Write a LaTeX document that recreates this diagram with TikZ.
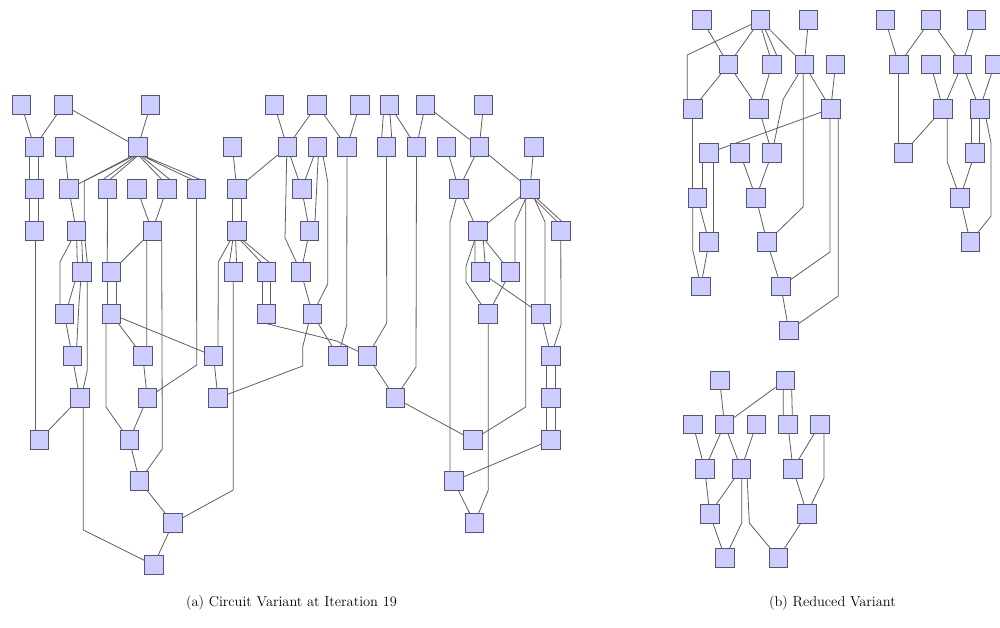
\documentclass[tikz,border=0pt]{standalone}
\pgfdeclarelayer{background}
\pgfsetlayers{background,main}
\definecolor{fillc}{RGB}{204,204,255}
\definecolor{bordc}{RGB}{85,85,115}
\definecolor{edgec}{RGB}{95,95,95}
\tikzset{
  nd/.style={draw=bordc, fill=fillc, minimum width=18.5pt, minimum height=18.5pt, inner sep=0pt, line width=0.7pt},
  ed/.style={draw=edgec, line width=0.8pt},
  captxt/.style={font=\fontsize{14.4}{17}\selectfont, inner sep=0pt}
}
\begin{document}
\begin{tikzpicture}[x=1pt,y=-1pt]
\useasboundingbox (0,0) rectangle (1000,628);
% ---------- (a) nodes ----------
\node[nd] (a1) at (21.5,105) {};
\node[nd] (a2) at (63.5,105) {};
\node[nd] (a3) at (150.5,105) {};
\node[nd] (a4) at (274.3,105) {};
\node[nd] (a5) at (317,105) {};
\node[nd] (a6) at (359.7,105) {};
\node[nd] (a7) at (389.5,105) {};
\node[nd] (a8) at (425.3,105) {};
\node[nd] (a9) at (483.5,105) {};
\node[nd] (b1) at (34.3,147) {};
\node[nd] (b2) at (64.5,147) {};
\node[nd] (b3) at (137.8,147) {};
\node[nd] (b4) at (232.5,147) {};
\node[nd] (b5) at (287.2,147) {};
\node[nd] (b6) at (317.2,147) {};
\node[nd] (b7) at (347,147) {};
\node[nd] (b8) at (386.5,147) {};
\node[nd] (b9) at (416.5,147) {};
\node[nd] (b10) at (446.5,147) {};
\node[nd] (b11) at (479.2,147) {};
\node[nd] (b12) at (533.8,147) {};
\node[nd] (c1) at (34.3,189) {};
\node[nd] (c2) at (68.8,189) {};
\node[nd] (c3) at (107.5,189) {};
\node[nd] (c4) at (137,189) {};
\node[nd] (c5) at (166.7,189) {};
\node[nd] (c6) at (196.5,189) {};
\node[nd] (c7) at (236.7,189) {};
\node[nd] (c8) at (301.7,189) {};
\node[nd] (c9) at (458.8,189) {};
\node[nd] (c10) at (530,189) {};
\node[nd] (d1) at (34.3,231) {};
\node[nd] (d2) at (76.3,231) {};
\node[nd] (d3) at (152.2,231) {};
\node[nd] (d4) at (236.7,231) {};
\node[nd] (d5) at (309.5,231) {};
\node[nd] (d6) at (477.8,231) {};
\node[nd] (d7) at (560.8,231) {};
\node[nd] (e1) at (81.7,272) {};
\node[nd] (e2) at (111.3,272) {};
\node[nd] (e3) at (233.5,272) {};
\node[nd] (e4) at (266.3,272) {};
\node[nd] (e5) at (301,272) {};
\node[nd] (e6) at (480.3,272) {};
\node[nd] (e7) at (510.5,272) {};
\node[nd] (f1) at (64.3,314) {};
\node[nd] (f2) at (111.3,314) {};
\node[nd] (f3) at (266.3,314) {};
\node[nd] (f4) at (312.5,314) {};
\node[nd] (f5) at (487.8,314) {};
\node[nd] (f6) at (541,314) {};
\node[nd] (g1) at (72.2,356) {};
\node[nd] (g2) at (142.8,356) {};
\node[nd] (g3) at (213.5,356) {};
\node[nd] (g4) at (338,356) {};
\node[nd] (g5) at (367.5,356) {};
\node[nd] (g6) at (551,356) {};
\node[nd] (h1) at (79.7,398) {};
\node[nd] (h2) at (147.3,398) {};
\node[nd] (h3) at (218,398) {};
\node[nd] (h4) at (395.2,398) {};
\node[nd] (h5) at (551,398) {};
\node[nd] (i1) at (39.2,440) {};
\node[nd] (i2) at (129.3,440) {};
\node[nd] (i3) at (472.8,440) {};
\node[nd] (i4) at (551,440) {};
\node[nd] (j1) at (139.5,481) {};
\node[nd] (j2) at (453.7,481) {};
\node[nd] (k1) at (173,523) {};
\node[nd] (k2) at (474.5,523) {};
\node[nd] (l1) at (153.7,565) {};
% ---------- (b) top-left nodes ----------
\node[nd] (p1) at (702,20) {};
\node[nd] (p2) at (760.3,20) {};
\node[nd] (p3) at (808.5,20) {};
\node[nd] (q1) at (728.5,64.5) {};
\node[nd] (q2) at (772,64.5) {};
\node[nd] (q3) at (804.2,64.5) {};
\node[nd] (q4) at (835.5,64.5) {};
\node[nd] (r1) at (692.8,108.8) {};
\node[nd] (r2) at (758.8,108.8) {};
\node[nd] (r3) at (830.8,108.8) {};
\node[nd] (s1) at (708.7,153) {};
\node[nd] (s2) at (740,153) {};
\node[nd] (s3) at (772,153) {};
\node[nd] (t1) at (697.3,197.8) {};
\node[nd] (t2) at (756,197.8) {};
\node[nd] (u1) at (709,242) {};
\node[nd] (u2) at (767,242) {};
\node[nd] (v1) at (700.8,286.3) {};
\node[nd] (v2) at (781,286.3) {};
\node[nd] (w1) at (788.8,330.5) {};
% ---------- (b) top-right nodes ----------
\node[nd] (P1) at (885.3,20) {};
\node[nd] (P2) at (930.7,20) {};
\node[nd] (P3) at (976.2,20) {};
\node[nd] (Q1) at (898.8,64.5) {};
\node[nd] (Q2) at (930.7,64.5) {};
\node[nd] (Q3) at (962.2,64.5) {};
\node[nd] (Q4) at (994.5,64.5) {};
\node[nd] (R1) at (943,108.8) {};
\node[nd] (R2) at (979.7,108.8) {};
\node[nd] (S1) at (903.5,153) {};
\node[nd] (S2) at (975,153) {};
\node[nd] (T1) at (960,197.8) {};
\node[nd] (U1) at (970.3,242) {};
% ---------- (b) bottom nodes ----------
\node[nd] (X1) at (719.7,380.3) {};
\node[nd] (X2) at (785.2,380.3) {};
\node[nd] (Y1) at (693,424.5) {};
\node[nd] (Y2) at (724.5,424.5) {};
\node[nd] (Y3) at (756.3,424.5) {};
\node[nd] (Y4) at (787.8,424.5) {};
\node[nd] (Y5) at (819.7,424.5) {};
\node[nd] (Z1) at (704.7,468.8) {};
\node[nd] (Z2) at (741.2,468.8) {};
\node[nd] (Z3) at (793,468.8) {};
\node[nd] (W1) at (709.7,513.7) {};
\node[nd] (W2) at (807,513.7) {};
\node[nd] (V1) at (725,557.8) {};
\node[nd] (V2) at (778.3,557.8) {};
% ---------- captions ----------
\node[captxt] (capa) at (291.5,603) {(a) Circuit Variant at Iteration 19};
\node[captxt] (capb) at (832.5,603) {(b) Reduced Variant};

\begin{pgfonlayer}{background}
\fill[white] (0,0) rectangle (1000,628);
% ---------- (a) edges, left ----------
\draw[ed] (a1)--(b1) (a2)--(b1) (a2)--(b3) (a3)--(b3);
\draw[ed] ([xshift=-4.5pt]b1.south)--([xshift=-4.5pt]c1.north) ([xshift=4.5pt]b1.south)--([xshift=4.5pt]c1.north);
\draw[ed] ([xshift=-4.5pt]c1.south)--([xshift=-4.5pt]d1.north) ([xshift=4.5pt]c1.south)--([xshift=4.5pt]d1.north);
\draw[ed] ([xshift=0.7pt]d1.south)--([xshift=-4.2pt]i1.north);
\draw[ed] (b2)--(c2);
\draw[ed] ([xshift=-7pt]b3.south)--(c2);
\draw[ed] ([xshift=-5pt]b3.south)--(84.3,181)--([xshift=8pt]d2.north);
\draw[ed] ([xshift=-3pt]b3.south)--([xshift=-4.2pt]c3.north) ([xshift=-1pt]b3.south)--([xshift=2.5pt]c3.north);
\draw[ed] ([xshift=2pt]b3.south)--([xshift=-5pt]c5.north) ([xshift=4pt]b3.south)--([xshift=3pt]c5.north);
\draw[ed] ([xshift=6pt]b3.south)--([xshift=-4.8pt]c6.north) ([xshift=8pt]b3.south)--([xshift=3.5pt]c6.north);
\draw[ed] (c2)--(d2);
\draw[ed] (c3.south)--([xshift=-4pt]e2.north);
\draw[ed] (c4)--(d3) (c5)--(d3) (d3)--(e2);
\draw[ed] ([xshift=-5.5pt]d3.south)--([xshift=4pt]g2.north);
\draw[ed] ([xshift=9.5pt]d3.south)--(162.3,449)--(j1);
\draw[ed] (c6.south)--(196.7,365)--(h2);
\draw[ed] (d2)--(60,262)--([xshift=-4.3pt]f1.north);
\draw[ed] ([xshift=0.4pt]d2.south)--([xshift=-4.4pt]e1.north)
          ([xshift=5.4pt]d2.south)--([xshift=1pt]e1.north)
          ([xshift=8.7pt]d2.south)--([xshift=5.6pt]e1.north);
\draw[ed] ([xshift=-6.7pt]e1.south)--([xshift=4pt]f1.north);
\draw[ed] ([xshift=-1pt]e1.south)--(79,303)--([xshift=4.5pt]g1.north);
\draw[ed] ([xshift=5.6pt]e1.south)--(87.3,370)--([xshift=3.6pt]h1.north);
\draw[ed] (f1)--(g1) (g1)--(h1) (h1)--(i1);
\draw[ed] ([xshift=3.6pt]h1.south)--(83.3,530)--(l1);
\draw[ed] ([xshift=-4pt]e2.south)--([xshift=-4pt]f2.north) ([xshift=5.4pt]e2.south)--([xshift=5.4pt]f2.north);
\draw[ed] (f2)--(g2) (f2)--(g3);
\draw[ed] ([xshift=-5.3pt]f2.south)--(106,407)--(i2);
\draw[ed] (g2)--(h2) (h2)--(i2) (i2)--(j1) (j1)--(k1) (k1)--(l1);
\draw[ed] ([xshift=-0.2pt]e3.south)--(233.3,490)--(k1);
% ---------- (a) edges, middle ----------
\draw[ed] (a4)--(b5) (a5)--(b5) (a5)--(b7) (a6)--(b7) (b4)--(c7) (b5)--(c7) (b5)--(c8);
\draw[ed] ([xshift=-0.5pt]b5.south)--(285,238)--(e5);
\draw[ed] (b6)--(c8);
\draw[ed] ([xshift=1pt]b6.south)--([xshift=5.5pt]d5.north);
\draw[ed] ([xshift=6pt]b6.south)--(327.7,182)--(327.7,284)--(f4);
\draw[ed] (b7.south)--(346.7,325)--(g4);
\draw[ed] ([xshift=-4.4pt]c7.south)--([xshift=-4.4pt]d4.north) ([xshift=5pt]c7.south)--([xshift=5pt]d4.north);
\draw[ed] (c8)--(d5);
\draw[ed] ([xshift=-4pt]d4.south)--([xshift=-4pt]e3.north) ([xshift=-1pt]d4.south)--([xshift=3pt]e3.north);
\draw[ed] ([xshift=4pt]d4.south)--([xshift=-5pt]e4.north) ([xshift=6.5pt]d4.south)--([xshift=3pt]e4.north);
\draw[ed] ([xshift=-6.5pt]d4.south)--(218.3,262)--([xshift=4.5pt]g3.north);
\draw[ed] (d5)--(e5);
\draw[ed] ([xshift=-3.6pt]e4.south)--([xshift=-3.6pt]f3.north) ([xshift=4pt]e4.south)--([xshift=4pt]f3.north);
\draw[ed] (e5)--(f4);
\draw[ed] (f3.south)--(336.7,341)--(g5);
\draw[ed] (f4)--(g4);
\draw[ed] ([xshift=-4pt]f4.south)--(302.7,347)--(302.7,366)--(h3);
\draw[ed] (g3)--(h3);
\draw[ed] (b8.south)--(386.7,323)--(g5);
\draw[ed] (g5)--(h4);
\draw[ed] (b9.south)--(416,367)--(h4);
\draw[ed] (h4)--(i3);
\draw[ed] (c9)--(450,222)--([xshift=-3.7pt]j2.north);
% ---------- (a) edges, right ----------
\draw[ed] ([xshift=-6.2pt]a7.south)--([xshift=-4.8pt]b8.north) ([xshift=0.5pt]a7.south)--([xshift=5.2pt]b8.north);
\draw[ed] (a7)--(b9) (a8)--(b9) (a8)--(b11) (a9)--(b11) (b10)--(c9) (b11)--(c9) (b11)--(c10) (b12)--(c10);
\draw[ed] (c9)--(d6) (c10)--(d6);
\draw[ed] (c10)--(515,222)--([xshift=4.5pt]e7.north);
\draw[ed] ([xshift=-4.3pt]c10.south)--(525.7,407)--(i3);
\draw[ed] (c10)--(545,222)--([xshift=4pt]f6.north);
\draw[ed] ([xshift=4pt]c10.south)--([xshift=-4pt]d7.north) ([xshift=7pt]c10.south)--([xshift=1pt]d7.north);
\draw[ed] (d7.south)--(561,325)--(g6);
\draw[ed] ([xshift=-2.8pt]d6.south)--([xshift=-5.3pt]e6.north) ([xshift=5.5pt]d6.south)--([xshift=4.7pt]e6.north);
\draw[ed] (d6)--(e7);
\draw[ed] (d6)--(466,266)--(466,282)--(f5);
\draw[ed] (e6)--(f6) (e7)--(f5);
\draw[ed] ([xshift=0.5pt]f5.south)--(488.3,490)--(k2);
\draw[ed] (f6)--(g6);
\draw[ed] ([xshift=-4.3pt]g6.south)--([xshift=-4.3pt]h5.north) ([xshift=4pt]g6.south)--([xshift=4pt]h5.north);
\draw[ed] ([xshift=-4.3pt]h5.south)--([xshift=-4.3pt]i4.north) ([xshift=4pt]h5.south)--([xshift=4pt]i4.north);
\draw[ed] (i4)--(j2) (j2)--(k2);
% ---------- (b) top-left edges ----------
\draw[ed] (p1)--(q1) (p2)--(q1);
\draw[ed] (p2)--(687.3,55)--([xshift=-5.5pt]r1.north);
\draw[ed] ([xshift=1.5pt]p2.south)--([xshift=-2.5pt]q2.north) ([xshift=5pt]p2.south)--([xshift=4.5pt]q2.north);
\draw[ed] (p2)--(q3) (p3)--(q3);
\draw[ed] (q1)--(r1) (q1)--(r2) (q2)--(r2);
\draw[ed] (q3)--(783.3,99)--(s3);
\draw[ed] ([xshift=-1pt]q3.south)--(803.3,206.7)--(u2);
\draw[ed] (q3)--(r3) (q4)--(r3);
\draw[ed] ([xshift=-0.1pt]r1.south)--([xshift=-4.6pt]t1.north);
\draw[ed] ([xshift=-4.6pt]t1.south)--(692.7,250)--(v1);
\draw[ed] (r2)--(s3);
\draw[ed] (r3)--(s1);
\draw[ed] ([xshift=-0.8pt]r3.south)--(830,252)--(v2);
\draw[ed] ([xshift=7.5pt]r3.south)--(838.3,296)--(w1);
\draw[ed] ([xshift=-6pt]s1.south)--([xshift=5.4pt]t1.north);
\draw[ed] ([xshift=4.6pt]s1.south)--([xshift=4.3pt]u1.north);
\draw[ed] (s2)--(t2) (s3)--(t2) (t1)--(u1) (u1)--(v1) (t2)--(u2) (u2)--(v2) (v2)--(w1);
% ---------- (b) top-right edges ----------
\draw[ed] (P1)--(Q1) (P2)--(Q1) (P2)--(Q3) (P3)--(Q3);
\draw[ed] (Q1.south)--([xshift=-4.7pt]S1.north);
\draw[ed] (Q2)--(R1) (Q3)--(R1) (Q3)--(R2) (Q4)--(R2);
\draw[ed] (R1)--(S1);
\draw[ed] ([xshift=4.3pt]R1.south)--(947.3,162)--(T1);
\draw[ed] ([xshift=-8pt]R2.south)--([xshift=-3.3pt]S2.north) ([xshift=-0.4pt]R2.south)--([xshift=4.3pt]S2.north);
\draw[ed] ([xshift=6.3pt]R2.south)--(991,143)--(991,216)--(U1);
\draw[ed] (S2)--(T1) (T1)--(U1);
% ---------- (b) bottom edges ----------
\draw[ed] (X1)--(Y2) (X2)--(Y2);
\draw[ed] ([xshift=-1.9pt]X2.south)--([xshift=-4.5pt]Y4.north) ([xshift=6.5pt]X2.south)--([xshift=4.5pt]Y4.north);
\draw[ed] (Y1)--(Z1) (Y2)--(Z1) (Y2)--(Z2) (Y3)--(Z2) (Y4)--(Z3) (Y5)--(Z3);
\draw[ed] ([xshift=4.3pt]Y5.south)--(824,478)--(W2);
\draw[ed] (Z1)--(W1) (Z2)--(W1);
\draw[ed] ([xshift=0.5pt]Z2.south)--(741.7,523)--(V1);
\draw[ed] ([xshift=6pt]Z2.south)--(749.3,523)--(V2);
\draw[ed] (Z3)--(W2) (W1)--(V1) (W2)--(V2);
\end{pgfonlayer}
\end{tikzpicture}
\end{document}
